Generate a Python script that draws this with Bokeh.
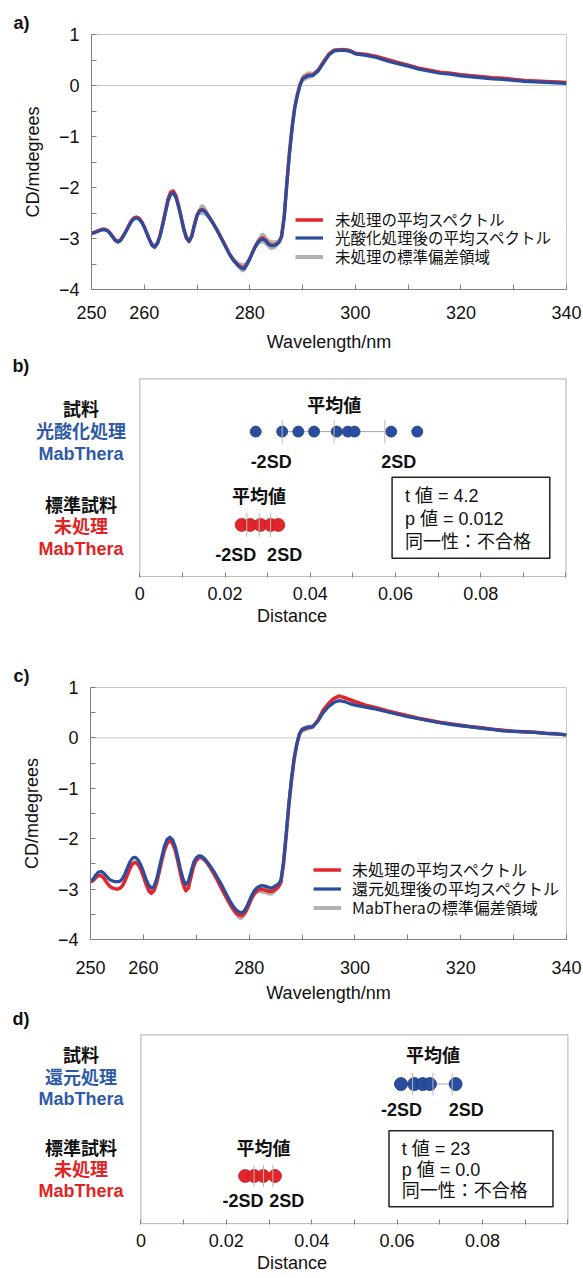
import numpy as np
from bokeh.plotting import figure
from bokeh.models import (ColumnDataSource, FixedTicker, Span, Legend, LegendItem,
                          Label, BoxAnnotation)
from bokeh.embed import file_html
from bokeh.resources import INLINE

# ---------------------------------------------------------------- data
WL = [250.0, 250.5, 251.0, 251.5, 252.0, 252.5, 253.0, 253.5, 254.0, 254.5,
      255.0, 255.5, 256.0, 256.5, 257.0, 257.5, 258.0, 258.5, 259.0, 259.5,
      260.0, 260.5, 261.0, 261.5, 262.0, 262.5, 263.0, 263.5, 264.0, 264.5,
      265.0, 265.5, 266.0, 266.5, 267.0, 267.5, 268.0, 268.5, 269.0, 269.5,
      270.0, 270.5, 271.0, 271.5, 272.0, 272.5, 273.0, 273.5, 274.0, 274.5,
      275.0, 275.5, 276.0, 276.5, 277.0, 277.5, 278.0, 278.5, 279.0, 279.5,
      280.0, 280.5, 281.0, 281.5, 282.0, 282.5, 283.0, 283.5, 284.0, 284.5,
      285.0, 285.5, 286.0, 286.5, 287.0, 287.5, 288.0, 288.5, 289.0, 289.5,
      290.0,
      291, 292, 293, 294, 295, 296, 297, 298, 299, 300,
      302, 304, 306, 308, 310, 312, 314, 316, 318, 320,
      322, 324, 326, 328, 330, 332, 334, 336, 338, 340]

# panel a: untreated mean, photo-oxidised mean, untreated SD
A_RED = [-2.89, -2.88, -2.86, -2.84, -2.82, -2.82, -2.84, -2.89, -2.96, -3.03,
         -3.06, -3.03, -2.95, -2.86, -2.76, -2.66, -2.60, -2.58, -2.60, -2.67,
         -2.77, -2.90, -3.03, -3.13, -3.16, -3.09, -2.93, -2.71, -2.47, -2.23,
         -2.09, -2.07, -2.16, -2.35, -2.58, -2.82, -2.99, -3.05, -2.95, -2.73,
         -2.54, -2.45, -2.43, -2.46, -2.53, -2.61, -2.69, -2.78, -2.87, -2.97,
         -3.07, -3.17, -3.27, -3.36, -3.43, -3.49, -3.54, -3.57, -3.57, -3.49,
         -3.39, -3.27, -3.16, -3.07, -3.01, -2.99, -3.03, -3.10, -3.13, -3.13,
         -3.11, -3.07, -2.96, -2.58, -1.92, -1.32, -0.82, -0.43, -0.18, 0.02,
         0.14,
         0.20, 0.21, 0.31, 0.47, 0.62, 0.69, 0.70, 0.70, 0.68, 0.63,
         0.61, 0.57, 0.51, 0.45, 0.40, 0.34, 0.30, 0.26, 0.24, 0.21,
         0.19, 0.17, 0.15, 0.14, 0.12, 0.10, 0.09, 0.08, 0.07, 0.06]
A_BLUE = [-2.90, -2.89, -2.87, -2.85, -2.83, -2.83, -2.85, -2.90, -2.97, -3.04,
          -3.07, -3.04, -2.96, -2.87, -2.77, -2.68, -2.62, -2.60, -2.62, -2.68,
          -2.78, -2.90, -3.03, -3.14, -3.17, -3.10, -2.95, -2.74, -2.50, -2.27,
          -2.13, -2.11, -2.20, -2.38, -2.60, -2.83, -3.00, -3.06, -2.96, -2.74,
          -2.55, -2.46, -2.44, -2.47, -2.54, -2.62, -2.70, -2.79, -2.88, -2.98,
          -3.08, -3.18, -3.28, -3.37, -3.44, -3.50, -3.55, -3.59, -3.59, -3.50,
          -3.40, -3.28, -3.17, -3.08, -3.03, -3.01, -3.05, -3.11, -3.14, -3.14,
          -3.12, -3.08, -2.97, -2.60, -1.95, -1.35, -0.85, -0.45, -0.20, 0.00,
          0.13,
          0.19, 0.20, 0.29, 0.45, 0.60, 0.68, 0.69, 0.69, 0.67, 0.62,
          0.59, 0.55, 0.48, 0.43, 0.38, 0.32, 0.28, 0.24, 0.22, 0.19,
          0.17, 0.15, 0.13, 0.12, 0.10, 0.08, 0.07, 0.06, 0.05, 0.04]
A_SD = [0.03, 0.03, 0.03, 0.03, 0.03, 0.03, 0.03, 0.03, 0.04, 0.04,
        0.04, 0.04, 0.03, 0.03, 0.03, 0.03, 0.03, 0.03, 0.03, 0.03,
        0.03, 0.05, 0.05, 0.06, 0.06, 0.05, 0.03, 0.03, 0.03, 0.03,
        0.04, 0.04, 0.04, 0.03, 0.03, 0.04, 0.06, 0.07, 0.06, 0.04,
        0.05, 0.09, 0.11, 0.10, 0.08, 0.06, 0.05, 0.04, 0.04, 0.04,
        0.04, 0.04, 0.04, 0.05, 0.06, 0.07, 0.08, 0.09, 0.09, 0.07,
        0.05, 0.05, 0.06, 0.08, 0.10, 0.11, 0.11, 0.10, 0.10, 0.09,
        0.08, 0.06, 0.05, 0.05, 0.05, 0.05, 0.05, 0.05, 0.05, 0.06,
        0.08,
        0.08, 0.06, 0.04, 0.04, 0.04, 0.04, 0.04, 0.04, 0.04, 0.04,
        0.03, 0.03, 0.03, 0.03, 0.03, 0.03, 0.03, 0.03, 0.03, 0.03,
        0.03, 0.03, 0.03, 0.03, 0.03, 0.03, 0.03, 0.03, 0.03, 0.03]

# panel c: untreated mean, reduced mean, MabThera SD
C_RED = [-2.85, -2.83, -2.77, -2.73, -2.73, -2.78, -2.86, -2.93, -2.97, -2.99,
         -3.00, -2.99, -2.94, -2.84, -2.71, -2.58, -2.49, -2.47, -2.51, -2.61,
         -2.75, -2.90, -3.03, -3.08, -3.03, -2.88, -2.66, -2.43, -2.22, -2.09,
         -2.04, -2.09, -2.22, -2.44, -2.69, -2.90, -3.03, -2.98, -2.76, -2.55,
         -2.43, -2.37, -2.37, -2.41, -2.47, -2.55, -2.64, -2.73, -2.83, -2.93,
         -3.03, -3.13, -3.23, -3.32, -3.40, -3.47, -3.51, -3.53, -3.50, -3.42,
         -3.30, -3.18, -3.09, -3.03, -3.01, -3.01, -3.02, -3.04, -3.05, -3.04,
         -3.00, -2.96, -2.87, -2.50, -1.95, -1.35, -0.85, -0.43, -0.14, 0.07,
         0.16,
         0.20, 0.22, 0.35, 0.55, 0.68, 0.78, 0.83, 0.80, 0.76, 0.72,
         0.65, 0.60, 0.54, 0.49, 0.44, 0.39, 0.35, 0.31, 0.28, 0.25,
         0.22, 0.20, 0.17, 0.15, 0.13, 0.12, 0.11, 0.09, 0.08, 0.06]
C_BLUE = [-2.85, -2.80, -2.72, -2.66, -2.65, -2.68, -2.74, -2.80, -2.83, -2.85,
          -2.85, -2.85, -2.80, -2.70, -2.57, -2.45, -2.38, -2.37, -2.42, -2.52,
          -2.65, -2.80, -2.92, -2.98, -2.95, -2.80, -2.58, -2.35, -2.14, -2.01,
          -1.97, -2.02, -2.15, -2.36, -2.60, -2.80, -2.91, -2.85, -2.66, -2.47,
          -2.38, -2.34, -2.35, -2.39, -2.45, -2.52, -2.60, -2.68, -2.77, -2.86,
          -2.96, -3.06, -3.16, -3.26, -3.34, -3.41, -3.45, -3.47, -3.44, -3.36,
          -3.24, -3.12, -3.03, -2.97, -2.94, -2.93, -2.94, -2.96, -2.98, -2.97,
          -2.93, -2.90, -2.82, -2.45, -1.90, -1.30, -0.80, -0.40, -0.12, 0.08,
          0.17,
          0.21, 0.22, 0.33, 0.50, 0.62, 0.70, 0.74, 0.72, 0.68, 0.65,
          0.61, 0.57, 0.52, 0.47, 0.42, 0.38, 0.34, 0.30, 0.27, 0.24,
          0.22, 0.19, 0.17, 0.14, 0.13, 0.12, 0.11, 0.09, 0.08, 0.06]
C_SD = [0.03, 0.03, 0.03, 0.03, 0.03, 0.03, 0.03, 0.03, 0.03, 0.03,
        0.03, 0.03, 0.03, 0.03, 0.03, 0.03, 0.03, 0.03, 0.03, 0.03,
        0.03, 0.04, 0.05, 0.05, 0.05, 0.04, 0.03, 0.03, 0.03, 0.03,
        0.03, 0.03, 0.03, 0.03, 0.03, 0.04, 0.05, 0.05, 0.04, 0.04,
        0.05, 0.06, 0.06, 0.06, 0.05, 0.05, 0.05, 0.05, 0.05, 0.06,
        0.06, 0.07, 0.07, 0.08, 0.08, 0.08, 0.09, 0.09, 0.08, 0.07,
        0.06, 0.05, 0.05, 0.06, 0.07, 0.08, 0.08, 0.08, 0.08, 0.08,
        0.07, 0.06, 0.05, 0.05, 0.05, 0.05, 0.05, 0.05, 0.05, 0.05,
        0.06,
        0.06, 0.05, 0.04, 0.04, 0.04, 0.04, 0.04, 0.04, 0.04, 0.04,
        0.03, 0.03, 0.03, 0.03, 0.03, 0.03, 0.03, 0.03, 0.03, 0.03,
        0.03, 0.03, 0.03, 0.03, 0.03, 0.03, 0.03, 0.03, 0.03, 0.03]

for arr in (A_RED, A_BLUE, A_SD, C_RED, C_BLUE, C_SD):
    assert len(arr) == len(WL), len(arr)

LEGEND_A = ["未処理の平均スペクトル", "光酸化処理後の平均スペクトル", "未処理の標準偏差領域"]
LEGEND_C = ["未処理の平均スペクトル", "還元処理後の平均スペクトル", "MabTheraの標準偏差領域"]

# panel b: distances (test = photo-oxidised, reference = untreated)
B_TEST = [0.0272, 0.0334, 0.0372, 0.0409, 0.0462, 0.0488, 0.0504, 0.0590, 0.0651]
B_TEST_STATS = [0.0334, 0.0456, 0.0575]   # -2SD, mean, 2SD
B_REF = [0.0239, 0.0259, 0.0283, 0.0307, 0.0325]
B_REF_STATS = [0.0251, 0.0280, 0.0307]
B_TEXT = ["t 値 = 4.2", "p 値 = 0.012", "同一性：不合格"]
B_NAMES = ["試料", "光酸化処理", "MabThera", "標準試料", "未処理", "MabThera"]

# panel d: distances (test = reduced, reference = untreated)
D_TEST = [0.0609, 0.0640, 0.0660, 0.0677, 0.0737]
D_TEST_STATS = [0.0636, 0.0684, 0.0729]
D_REF = [0.0244, 0.0265, 0.0287, 0.0314]
D_REF_STATS = [0.0265, 0.0287, 0.0309]
D_TEXT = ["t 値 = 23", "p 値 = 0.0", " 同一性：不合格"]
D_NAMES = ["試料", "還元処理", "MabThera", "標準試料", "未処理", "MabThera"]

DIST_MAJOR = [0, 0.02, 0.04, 0.06, 0.08]
DIST_MINOR = [0.01, 0.03, 0.05, 0.07, 0.09, 0.1]

# ---------------------------------------------------------------- style
FONT = "Liberation Sans, Noto Sans CJK JP"
CJK = "Noto Sans CJK JP"
RED = "#e3262b"
BLUE = "#2b4d9e"
GRAY = "#b2b2b2"
AXIS = "#808080"
TEXT = "#111111"
TBLUE = "#2f5aa8"
TRED = "#e02424"
W = 583


def style_axis(ax, standoff, label_standoff):
    ax.major_tick_in = 5
    ax.major_tick_out = 0
    ax.minor_tick_in = 5
    ax.minor_tick_out = 0
    ax.axis_line_color = AXIS
    ax.major_tick_line_color = AXIS
    ax.minor_tick_line_color = AXIS
    ax.major_label_text_font = FONT
    ax.major_label_text_font_size = "18px"
    ax.major_label_text_color = TEXT
    ax.axis_label_text_font = FONT
    ax.axis_label_text_font_size = "18px"
    ax.axis_label_text_font_style = "normal"
    ax.axis_label_text_color = TEXT
    ax.major_label_standoff = standoff
    ax.axis_label_standoff = label_standoff


def label(p, x, y, text, color=TEXT, size="18px", bold=False, align="center", xoff=0):
    p.add_layout(Label(x=x, y=y, text=text, text_color=color, text_font=FONT,
                       text_font_size=size, text_font_style="bold" if bold else "normal",
                       text_align=align, text_baseline="middle", x_offset=xoff))


def spectrum(height, borders, red, blue, sd, names, letter, leg_x, leg_ys,
             leg_standoff, leg_size, xstand, xlabstand):
    p = figure(width=W, height=height, x_range=(250, 340), y_range=(-4, 1),
               output_backend="svg", toolbar_location=None, tools="", title=letter)
    p.min_border_top, p.min_border_bottom, p.min_border_left, p.min_border_right = borders
    p.title.align = "left"
    p.title.offset = 13 - borders[2]
    p.title.standoff = 4
    p.title.text_font = FONT
    p.title.text_font_size = "18px"
    p.title.text_font_style = "bold"
    p.title.text_color = TEXT
    p.grid.visible = False
    p.outline_line_color = "#c8c8c8"
    p.xaxis.ticker = FixedTicker(ticks=[250, 260, 280, 300, 320, 340],
                                 minor_ticks=[270, 290, 310, 330])
    p.yaxis.ticker = FixedTicker(ticks=[-4, -3, -2, -1, 0, 1],
                                 minor_ticks=[-3.5, -2.5, -1.5, -0.5, 0.5])
    p.xaxis.axis_label = "Wavelength/nm"
    p.yaxis.axis_label = "CD/mdegrees"
    style_axis(p.xaxis[0], xstand, xlabstand)
    style_axis(p.yaxis[0], 12, 13)

    zero = Span(location=0, dimension="width", line_color="#c8c8c8", line_width=1)
    zero.level = "underlay"
    p.add_layout(zero)

    src = ColumnDataSource(dict(
        wl=WL, red=red, blue=blue,
        lo=[r - s for r, s in zip(red, sd)],
        hi=[r + s for r, s in zip(red, sd)]))
    p.varea(x="wl", y1="lo", y2="hi", source=src, fill_color=GRAY)
    r_red = p.line("wl", "red", source=src, line_color=RED, line_width=3.5, line_join="round")
    r_blue = p.line("wl", "blue", source=src, line_color=BLUE, line_width=3.2, line_join="round")
    # legend swatch for the SD band (a single missing value: draws nothing in the plot)
    r_sd = p.line(x=np.array([np.nan]), y=np.array([np.nan]), line_color=GRAY, line_width=4)

    for name, rend, ly in zip(names, [r_red, r_blue, r_sd], leg_ys):
        leg = Legend(items=[LegendItem(label=name, renderers=[rend])], location=(leg_x, ly))
        leg.glyph_width = 28
        leg.glyph_height = 19
        leg.label_height = 19
        leg.spacing = 0
        leg.padding = 0
        leg.margin = 0
        leg.label_standoff = leg_standoff
        leg.border_line_color = None
        leg.background_fill_alpha = 0
        leg.label_text_font = CJK
        leg.label_text_font_size = leg_size
        leg.label_text_color = TEXT
        p.add_layout(leg)
    return p


def distance(height, border_bottom, xr, yr, test, test_stats, ref, ref_stats,
             names, texts, L, letter, test_size, xstand, xlabstand):
    p = figure(width=W, height=height, x_range=xr, y_range=yr,
               y_axis_location=None, output_backend="svg", toolbar_location=None, tools="")
    p.min_border_top = 0
    p.min_border_left = 0
    p.min_border_right = 0
    p.min_border_bottom = border_bottom
    p.grid.visible = False
    p.outline_line_color = None
    p.xaxis.ticker = FixedTicker(ticks=DIST_MAJOR, minor_ticks=DIST_MINOR)
    p.xaxis.major_label_overrides = {0: "0"}
    p.xaxis.axis_label = "Distance"
    style_axis(p.xaxis[0], xstand, xlabstand)
    p.xaxis.axis_line_color = None

    # visible plot frame: 0 .. 0.1 in x, 0 .. 1 in y
    p.add_layout(BoxAnnotation(left=0, right=0.1, bottom=0, top=1,
                               fill_alpha=0, line_color="#bdbdbd", line_width=1.2,
                               line_alpha=1, level="underlay"))

    rows = [(test, test_stats, L["row_t"], BLUE, "#1c3d86", test_size, L["mean_t"], L["sd_t"]),
            (ref, ref_stats, L["row_r"], RED, "#c01c1c", 13, L["mean_r"], L["sd_r"])]
    for pts, st, ry, col, edge, sz, my, sy in rows:
        p.segment(x0=[st[0]], y0=[ry], x1=[st[2]], y1=[ry], line_color="#a8a8a8", line_width=1)
        p.scatter(x=pts, y=[ry] * len(pts), size=sz, marker="circle",
                  fill_color=col, line_color=edge, line_width=0.8)
        p.segment(x0=st, y0=[ry - 0.06] * 3, x1=st, y1=[ry + 0.06] * 3,
                  line_color="#b8b8b8", line_width=1)
        label(p, st[1], my, "平均値", bold=True)
        label(p, st[0], sy, "-2SD", bold=True, xoff=-11)
        label(p, st[2], sy, "2SD", bold=True, xoff=14)

    colors = [TEXT, TBLUE, TBLUE, TEXT, TRED, TRED]
    for name, yy, col in zip(names, L["names_y"], colors):
        label(p, L["names_x"], yy, name, color=col, bold=True)

    bx = L["box"]
    p.add_layout(BoxAnnotation(left=bx[0], right=bx[1], bottom=bx[2], top=bx[3],
                               fill_color="white", fill_alpha=1,
                               line_color="#222222", line_width=1.5, line_alpha=1))
    for t, yy in zip(texts, L["text_y"]):
        label(p, L["text_x"], yy, t, align="left")

    label(p, L["letter"][0], L["letter"][1], letter, bold=True)
    return p


pa = spectrum(355, (34, 66, 91, 17), A_RED, A_BLUE, A_SD, LEGEND_A, "a)",
              204, [59, 41, 22], 12, "15.5px", 16, 10)

pb = distance(300, 78, (-0.03268, 0.10411), (-0.005, 1.1179),
              B_TEST, B_TEST_STATS, B_REF, B_REF_STATS, B_NAMES, B_TEXT,
              dict(row_t=0.733, row_r=0.261, mean_t=0.863, sd_t=0.578,
                   mean_r=0.401, sd_r=0.110,
                   names_x=-0.0138, names_y=[0.840, 0.730, 0.621, 0.359, 0.249, 0.137],
                   box=(0.0592, 0.0962, 0.093, 0.502), text_x=0.0622,
                   text_y=[0.405, 0.292, 0.177], letter=(-0.0279, 1.067)),
              "b)", 11, 9, 3)

pc = spectrum(350, (32, 65, 90, 17), C_RED, C_BLUE, C_SD, LEGEND_C, "c)",
              223, [58, 39, 20], 11, "16px", 21, 6)

pd = distance(273, 54, (-0.03288, 0.10365), (-0.005, 1.1552),
              D_TEST, D_TEST_STATS, D_REF, D_REF_STATS, D_NAMES, D_TEXT,
              dict(row_t=0.739, row_r=0.252, mean_t=0.889, sd_t=0.602,
                   mean_r=0.397, sd_r=0.118,
                   names_x=-0.0140, names_y=[0.886, 0.770, 0.660, 0.397, 0.286, 0.173],
                   box=(0.0581, 0.0965, 0.089, 0.492), text_x=0.0611,
                   text_y=[0.397, 0.283, 0.170], letter=(-0.0281, 1.084)),
              "d)", 13, 9, 3)

open("out.html", "w").write(file_html([pa, pb, pc, pd], INLINE))
